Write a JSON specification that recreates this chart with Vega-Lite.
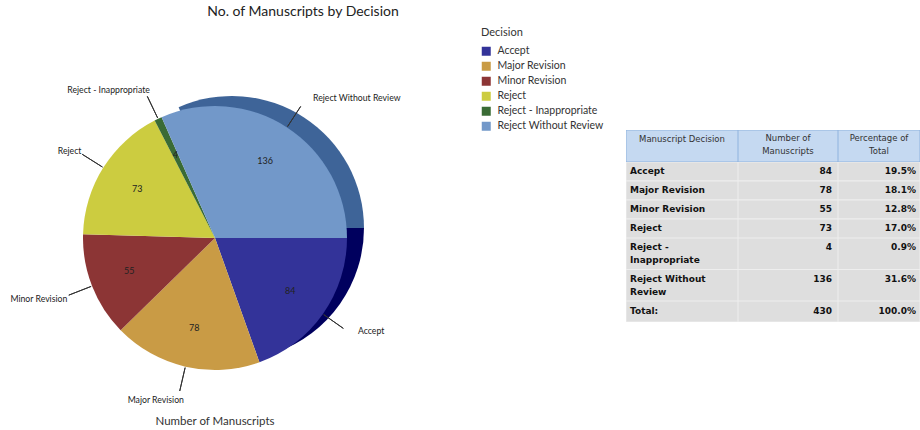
{
 "$schema": "https://vega.github.io/schema/vega-lite/v6.json",
 "background": "white",
 "padding": {"left": 0, "top": 5, "right": 0, "bottom": 0},
 "title": {"text": "No. of Manuscripts by Decision", "anchor": "middle", "dx": -157, "fontSize": 14, "font": "Lato", "fontWeight": "normal", "color": "#222", "offset": 8},
 "config": {"view": {"stroke": null}},
 "datasets": {
  "pie": [
   {"Decision": "Accept", "Count": 84},
   {"Decision": "Major Revision", "Count": 78},
   {"Decision": "Minor Revision", "Count": 55},
   {"Decision": "Reject", "Count": 73},
   {"Decision": "Reject - Inappropriate", "Count": 4},
   {"Decision": "Reject Without Review", "Count": 136}
  ],
  "table": [
   {"g": "H", "r": "0", "c1": "Manuscript Decision", "c2": "Number of\nManuscripts", "c3": "Percentage of\nTotal"},
   {"g": "A", "r": "1", "c1": "Accept", "c2": "84", "c3": "19.5%"},
   {"g": "A", "r": "2", "c1": "Major Revision", "c2": "78", "c3": "18.1%"},
   {"g": "A", "r": "3", "c1": "Minor Revision", "c2": "55", "c3": "12.8%"},
   {"g": "A", "r": "4", "c1": "Reject", "c2": "73", "c3": "17.0%"},
   {"g": "B", "r": "5", "c1": "Reject -\nInappropriate", "c2": "4", "c3": "0.9%"},
   {"g": "B", "r": "6", "c1": "Reject Without\nReview", "c2": "136", "c3": "31.6%"},
   {"g": "T", "r": "7", "c1": "Total:", "c2": "430", "c3": "100.0%"}
  ]
 },
 "spacing": 196,
 "bounds": "flush",
 "hconcat": [
  {
   "width": 430, "height": 216,
   "data": {"name": "pie"},
   "title": {"text": "Number of Manuscripts", "orient": "bottom", "frame": "group", "anchor": "middle", "fontSize": 11.5, "font": "Lato", "fontWeight": "normal", "color": "#333", "offset": 12},
   "encoding": {
    "theta": {"field": "Count", "type": "quantitative", "stack": true, "scale": {"domain": [0, 430], "range": [1.5708, 7.854]}},
    "order": {"field": "Decision", "type": "nominal"},
    "detail": {"field": "Decision", "type": "nominal"}
   },
   "layer": [
    {"mark": {"type": "arc", "outerRadius": 132, "xOffset": 17, "yOffset": -10},
     "encoding": {"fill": {"condition": [{"test": "datum.Decision === 'Reject Without Review'", "value": "#3e6498"}, {"test": "datum.Decision === 'Accept'", "value": "#00005e"}], "value": "transparent"}}},
    {"mark": {"type": "arc", "outerRadius": 132},
     "encoding": {"color": {"field": "Decision", "type": "nominal",
       "scale": {"domain": ["Accept", "Major Revision", "Minor Revision", "Reject", "Reject - Inappropriate", "Reject Without Review"], "range": ["#333399", "#c99b45", "#8c3535", "#cccc40", "#3a6b35", "#7298c9"]},
       "legend": {"title": "Decision", "orient": "none", "legendX": 481, "legendY": -103, "symbolType": "square", "symbolSize": 81, "symbolStrokeWidth": 0, "symbolOpacity": 1, "labelFont": "Lato", "titleFont": "Lato", "labelFontSize": 10.5, "titleFontSize": 11, "titleFontWeight": "normal", "titleColor": "#333", "labelColor": "#333", "rowPadding": 4, "titlePadding": 8, "labelOffset": 6}}}},
    {"mark": {"type": "arc", "innerRadius": 133, "outerRadius": 157, "padAngle": 3.2, "fill": "transparent", "stroke": "#333333", "strokeWidth": 1}},
    {"mark": {"type": "text", "radius": 92, "font": "Lato", "fontSize": 9, "color": "#222"},
     "encoding": {"text": {"field": "Count", "type": "quantitative"}}},
    {"mark": {"type": "text", "radius": 165, "align": "left", "dx": 8, "dy": -2, "font": "Lato", "fontSize": 8.7, "color": "#222"},
     "encoding": {"text": {"condition": {"test": "datum.Decision === 'Accept' || datum.Decision === 'Reject Without Review'", "field": "Decision"}, "value": ""}}},
    {"mark": {"type": "text", "radius": 165, "align": "right", "dx": 6, "dy": 1, "font": "Lato", "fontSize": 8.7, "color": "#222"},
     "encoding": {"text": {"condition": {"test": "!(datum.Decision === 'Accept' || datum.Decision === 'Reject Without Review')", "field": "Decision"}, "value": ""}}}
   ]
  },
  {
   "spacing": 0,
   "vconcat": [
    {"spacing": 0, "bounds": "flush", "hconcat": [
     {"width": 112, "height": 32, "data": {"name": "table"}, "transform": [{"filter": "datum.g === 'H'"}],
      "encoding": {"y": {"field": "r", "type": "ordinal", "axis": null, "scale": {"paddingInner": 0, "paddingOuter": 0}}},
      "layer": [
       {"mark": {"type": "rect", "fill": "#c5d9f1", "stroke": "#8fb3de", "strokeWidth": 1, "clip": true}},
       {"mark": {"type": "text", "align": "center", "baseline": "top", "dy": 5, "font": "DejaVu Sans", "fontSize": 8.5, "color": "#333", "lineBreak": "\n", "lineHeight": 14, "clip": true},
        "encoding": {"y": {"field": "r", "type": "ordinal", "bandPosition": 0, "axis": null}, "text": {"field": "c1"}}}
      ]},
     {"width": 100, "height": 32, "data": {"name": "table"}, "transform": [{"filter": "datum.g === 'H'"}],
      "encoding": {"y": {"field": "r", "type": "ordinal", "axis": null, "scale": {"paddingInner": 0, "paddingOuter": 0}}},
      "layer": [
       {"mark": {"type": "rect", "fill": "#c5d9f1", "stroke": "#8fb3de", "strokeWidth": 1, "clip": true}},
       {"mark": {"type": "text", "align": "center", "baseline": "top", "dy": 4, "font": "DejaVu Sans", "fontSize": 8.5, "color": "#333", "lineBreak": "\n", "lineHeight": 13, "clip": true},
        "encoding": {"y": {"field": "r", "type": "ordinal", "bandPosition": 0, "axis": null}, "text": {"field": "c2"}}}
      ]},
     {"width": 82, "height": 32, "data": {"name": "table"}, "transform": [{"filter": "datum.g === 'H'"}],
      "encoding": {"y": {"field": "r", "type": "ordinal", "axis": null, "scale": {"paddingInner": 0, "paddingOuter": 0}}},
      "layer": [
       {"mark": {"type": "rect", "fill": "#c5d9f1", "stroke": "#8fb3de", "strokeWidth": 1, "clip": true}},
       {"mark": {"type": "text", "align": "center", "baseline": "top", "dy": 4, "font": "DejaVu Sans", "fontSize": 8.5, "color": "#333", "lineBreak": "\n", "lineHeight": 13, "clip": true},
        "encoding": {"y": {"field": "r", "type": "ordinal", "bandPosition": 0, "axis": null}, "text": {"field": "c3"}}}
      ]}
    ]},
    {"spacing": 0, "bounds": "flush", "hconcat": [
     {"width": 112, "height": 76, "data": {"name": "table"}, "transform": [{"filter": "datum.g === 'A'"}],
      "encoding": {"y": {"field": "r", "type": "ordinal", "axis": null, "scale": {"paddingInner": 0, "paddingOuter": 0}}},
      "layer": [
       {"mark": {"type": "rect", "fill": "#dedede", "stroke": "#eeeeee", "strokeWidth": 1, "clip": true}},
       {"mark": {"type": "text", "align": "left", "baseline": "top", "dx": -52, "dy": 5, "font": "DejaVu Sans", "fontSize": 9, "fontWeight": "bold", "color": "#111", "lineBreak": "\n", "lineHeight": 13, "clip": true},
        "encoding": {"y": {"field": "r", "type": "ordinal", "bandPosition": 0, "axis": null}, "text": {"field": "c1"}}}
      ]},
     {"width": 100, "height": 76, "data": {"name": "table"}, "transform": [{"filter": "datum.g === 'A'"}],
      "encoding": {"y": {"field": "r", "type": "ordinal", "axis": null, "scale": {"paddingInner": 0, "paddingOuter": 0}}},
      "layer": [
       {"mark": {"type": "rect", "fill": "#dedede", "stroke": "#eeeeee", "strokeWidth": 1, "clip": true}},
       {"mark": {"type": "text", "align": "right", "baseline": "top", "dx": 44, "dy": 5, "font": "DejaVu Sans", "fontSize": 9, "fontWeight": "bold", "color": "#111", "lineBreak": "\n", "lineHeight": 13, "clip": true},
        "encoding": {"y": {"field": "r", "type": "ordinal", "bandPosition": 0, "axis": null}, "text": {"field": "c2"}}}
      ]},
     {"width": 82, "height": 76, "data": {"name": "table"}, "transform": [{"filter": "datum.g === 'A'"}],
      "encoding": {"y": {"field": "r", "type": "ordinal", "axis": null, "scale": {"paddingInner": 0, "paddingOuter": 0}}},
      "layer": [
       {"mark": {"type": "rect", "fill": "#dedede", "stroke": "#eeeeee", "strokeWidth": 1, "clip": true}},
       {"mark": {"type": "text", "align": "right", "baseline": "top", "dx": 37, "dy": 5, "font": "DejaVu Sans", "fontSize": 9, "fontWeight": "bold", "color": "#111", "lineBreak": "\n", "lineHeight": 13, "clip": true},
        "encoding": {"y": {"field": "r", "type": "ordinal", "bandPosition": 0, "axis": null}, "text": {"field": "c3"}}}
      ]}
    ]},
    {"spacing": 0, "bounds": "flush", "hconcat": [
     {"width": 112, "height": 63, "data": {"name": "table"}, "transform": [{"filter": "datum.g === 'B'"}],
      "encoding": {"y": {"field": "r", "type": "ordinal", "axis": null, "scale": {"paddingInner": 0, "paddingOuter": 0}}},
      "layer": [
       {"mark": {"type": "rect", "fill": "#dedede", "stroke": "#eeeeee", "strokeWidth": 1, "clip": true}},
       {"mark": {"type": "text", "align": "left", "baseline": "top", "dx": -52, "dy": 5, "font": "DejaVu Sans", "fontSize": 9, "fontWeight": "bold", "color": "#111", "lineBreak": "\n", "lineHeight": 13, "clip": true},
        "encoding": {"y": {"field": "r", "type": "ordinal", "bandPosition": 0, "axis": null}, "text": {"field": "c1"}}}
      ]},
     {"width": 100, "height": 63, "data": {"name": "table"}, "transform": [{"filter": "datum.g === 'B'"}],
      "encoding": {"y": {"field": "r", "type": "ordinal", "axis": null, "scale": {"paddingInner": 0, "paddingOuter": 0}}},
      "layer": [
       {"mark": {"type": "rect", "fill": "#dedede", "stroke": "#eeeeee", "strokeWidth": 1, "clip": true}},
       {"mark": {"type": "text", "align": "right", "baseline": "top", "dx": 44, "dy": 5, "font": "DejaVu Sans", "fontSize": 9, "fontWeight": "bold", "color": "#111", "lineBreak": "\n", "lineHeight": 13, "clip": true},
        "encoding": {"y": {"field": "r", "type": "ordinal", "bandPosition": 0, "axis": null}, "text": {"field": "c2"}}}
      ]},
     {"width": 82, "height": 63, "data": {"name": "table"}, "transform": [{"filter": "datum.g === 'B'"}],
      "encoding": {"y": {"field": "r", "type": "ordinal", "axis": null, "scale": {"paddingInner": 0, "paddingOuter": 0}}},
      "layer": [
       {"mark": {"type": "rect", "fill": "#dedede", "stroke": "#eeeeee", "strokeWidth": 1, "clip": true}},
       {"mark": {"type": "text", "align": "right", "baseline": "top", "dx": 37, "dy": 5, "font": "DejaVu Sans", "fontSize": 9, "fontWeight": "bold", "color": "#111", "lineBreak": "\n", "lineHeight": 13, "clip": true},
        "encoding": {"y": {"field": "r", "type": "ordinal", "bandPosition": 0, "axis": null}, "text": {"field": "c3"}}}
      ]}
    ]},
    {"spacing": 0, "bounds": "flush", "hconcat": [
     {"width": 112, "height": 21, "data": {"name": "table"}, "transform": [{"filter": "datum.g === 'T'"}],
      "encoding": {"y": {"field": "r", "type": "ordinal", "axis": null, "scale": {"paddingInner": 0, "paddingOuter": 0}}},
      "layer": [
       {"mark": {"type": "rect", "fill": "#dedede", "stroke": "#eeeeee", "strokeWidth": 1, "clip": true}},
       {"mark": {"type": "text", "align": "left", "baseline": "top", "dx": -52, "dy": 6, "font": "DejaVu Sans", "fontSize": 9, "fontWeight": "bold", "color": "#111", "lineBreak": "\n", "lineHeight": 13, "clip": true},
        "encoding": {"y": {"field": "r", "type": "ordinal", "bandPosition": 0, "axis": null}, "text": {"field": "c1"}}}
      ]},
     {"width": 100, "height": 21, "data": {"name": "table"}, "transform": [{"filter": "datum.g === 'T'"}],
      "encoding": {"y": {"field": "r", "type": "ordinal", "axis": null, "scale": {"paddingInner": 0, "paddingOuter": 0}}},
      "layer": [
       {"mark": {"type": "rect", "fill": "#dedede", "stroke": "#eeeeee", "strokeWidth": 1, "clip": true}},
       {"mark": {"type": "text", "align": "right", "baseline": "top", "dx": 44, "dy": 6, "font": "DejaVu Sans", "fontSize": 9, "fontWeight": "bold", "color": "#111", "lineBreak": "\n", "lineHeight": 13, "clip": true},
        "encoding": {"y": {"field": "r", "type": "ordinal", "bandPosition": 0, "axis": null}, "text": {"field": "c2"}}}
      ]},
     {"width": 82, "height": 21, "data": {"name": "table"}, "transform": [{"filter": "datum.g === 'T'"}],
      "encoding": {"y": {"field": "r", "type": "ordinal", "axis": null, "scale": {"paddingInner": 0, "paddingOuter": 0}}},
      "layer": [
       {"mark": {"type": "rect", "fill": "#dedede", "stroke": "#eeeeee", "strokeWidth": 1, "clip": true}},
       {"mark": {"type": "text", "align": "right", "baseline": "top", "dx": 37, "dy": 6, "font": "DejaVu Sans", "fontSize": 9, "fontWeight": "bold", "color": "#111", "lineBreak": "\n", "lineHeight": 13, "clip": true},
        "encoding": {"y": {"field": "r", "type": "ordinal", "bandPosition": 0, "axis": null}, "text": {"field": "c3"}}}
      ]}
    ]}
   ]
  }
 ]
}
